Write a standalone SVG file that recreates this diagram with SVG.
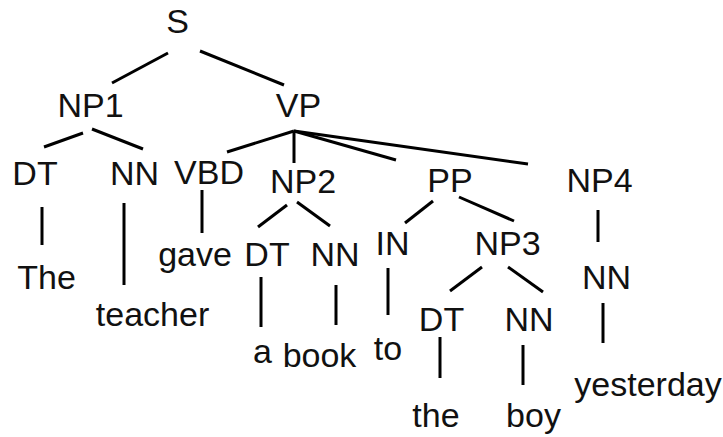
<svg xmlns="http://www.w3.org/2000/svg" width="723" height="437" viewBox="0 0 723 437">
  <style>
    text { font-family: "Liberation Sans", Arial, sans-serif; font-size: 34px; fill: #111; text-anchor: middle; }
    .edges line { stroke: #000; stroke-width: 3; stroke-linecap: butt; }
  </style>
  <rect width="723" height="437" fill="#fff"/>

  <!-- tree edges -->
  <g id="edges" class="edges">
    <line x1="168" y1="53" x2="112" y2="83"/>
    <line x1="200" y1="51" x2="284" y2="85"/>
    <line x1="83" y1="133" x2="44" y2="147"/>
    <line x1="92" y1="129" x2="143" y2="149"/>
    <line x1="294" y1="131" x2="227" y2="152"/>
    <line x1="294" y1="131" x2="294" y2="163"/>
    <line x1="294" y1="131" x2="396" y2="160"/>
    <line x1="294" y1="131" x2="528" y2="164"/>
    <line x1="42" y1="207" x2="42" y2="245"/>
    <line x1="124" y1="203" x2="124" y2="285"/>
    <line x1="202" y1="190" x2="202" y2="233"/>
    <line x1="287" y1="205" x2="258" y2="227"/>
    <line x1="297" y1="202" x2="330" y2="226"/>
    <line x1="261" y1="277" x2="261" y2="327"/>
    <line x1="336" y1="285" x2="336" y2="325"/>
    <line x1="433" y1="201" x2="405" y2="223"/>
    <line x1="459" y1="197" x2="514" y2="221"/>
    <line x1="388" y1="268" x2="388" y2="315"/>
    <line x1="482" y1="267" x2="450" y2="291"/>
    <line x1="508" y1="267" x2="543" y2="292"/>
    <line x1="440" y1="337" x2="440" y2="378"/>
    <line x1="523" y1="345" x2="523" y2="385"/>
    <line x1="598" y1="210" x2="598" y2="242"/>
    <line x1="603" y1="303" x2="603" y2="343"/>
  </g>

  <!-- phrase and tag nodes -->
  <g id="S"><text x="177.5" y="33">S</text></g>
  <g id="NP1"><text x="90.5" y="117">NP1</text></g>
  <g id="VP"><text x="298.5" y="117">VP</text></g>
  <g id="DT1"><text x="35" y="185">DT</text></g>
  <g id="NN1"><text x="134.5" y="185">NN</text></g>
  <g id="VBD"><text x="209" y="184">VBD</text></g>
  <g id="NP2"><text x="303" y="193">NP2</text></g>
  <g id="PP"><text x="450" y="192">PP</text></g>
  <g id="NP4"><text x="599.5" y="192">NP4</text></g>
  <g id="DT2"><text x="267" y="266">DT</text></g>
  <g id="NN2"><text x="335" y="266">NN</text></g>
  <g id="IN"><text x="392.5" y="255">IN</text></g>
  <g id="NP3"><text x="507.5" y="255">NP3</text></g>
  <g id="NN4"><text x="606.5" y="289">NN</text></g>
  <g id="DT3"><text x="441.5" y="331">DT</text></g>
  <g id="NN3"><text x="529" y="331">NN</text></g>

  <!-- words -->
  <g id="w-The"><text x="46.5" y="289">The</text></g>
  <g id="w-teacher"><text x="152.5" y="326">teacher</text></g>
  <g id="w-gave"><text x="195" y="266">gave</text></g>
  <g id="w-a"><text x="262.5" y="363">a</text></g>
  <g id="w-book"><text x="319.5" y="367">book</text></g>
  <g id="w-to"><text x="388" y="360">to</text></g>
  <g id="w-the"><text x="436" y="427">the</text></g>
  <g id="w-boy"><text x="533.5" y="427">boy</text></g>
  <g id="w-yesterday"><text x="648" y="396">yesterday</text></g>
</svg>
